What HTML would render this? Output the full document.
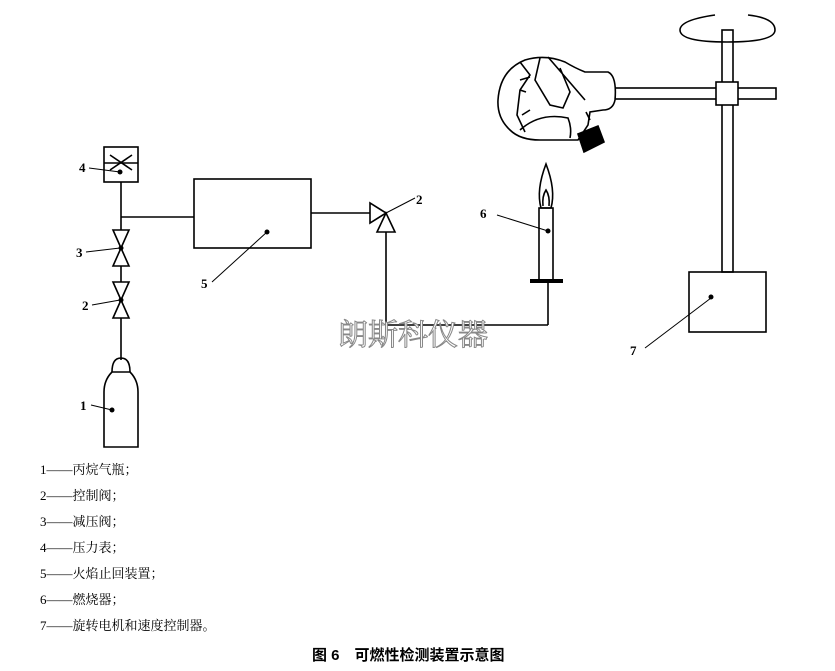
<!DOCTYPE html>
<html><head><meta charset="utf-8"><style>
body{margin:0;background:#fff;width:835px;height:671px;overflow:hidden;font-family:"Liberation Serif","Noto Serif CJK SC",serif}
</style></head><body>
<svg width="835" height="671" xmlns="http://www.w3.org/2000/svg" style="position:absolute;left:0;top:0">
<g stroke="#000" stroke-width="1.6" fill="none">
<rect x="104" y="147" width="34" height="35" fill="#fff"/>
<line x1="104" y1="163" x2="138" y2="163"/>
<path d="M110 155 L132 170 M110 170 L132 155"/>
<line x1="121" y1="182" x2="121" y2="230"/>
<line x1="121" y1="217" x2="194" y2="217"/>
<path d="M113 230 L129 230 L121 248 Z M113 266 L129 266 L121 248 Z"/>
<line x1="121" y1="266" x2="121" y2="282"/>
<path d="M113 282 L129 282 L121 300 Z M113 318 L129 318 L121 300 Z"/>
<line x1="121" y1="318" x2="121" y2="360"/>
<path d="M112 372 Q112 358 121 358 Q130 358 130 372"/>
<path d="M104 447 L104 392 Q104 380 112 372 L130 372 Q138 380 138 392 L138 447 Z"/>
<rect x="194" y="179" width="117" height="69"/>
<line x1="311" y1="213" x2="370" y2="213"/>
<path d="M370 203 L370 223 L386 213 Z M386 213 L377 232 L395 232 Z"/>
<line x1="386" y1="232" x2="386" y2="325"/>
<line x1="386" y1="325" x2="548" y2="325"/>
<line x1="548" y1="325" x2="548" y2="283"/>
<rect x="539" y="208" width="14" height="72"/>
<path d="M541 208 Q536 190 546 164 Q556 190 551 208 Z"/>
<path d="M543 206 Q542 196 546 190 Q550 196 549 206"/>
<rect x="722" y="30" width="11" height="242" fill="#fff"/>
<rect x="615" y="88" width="161" height="11" fill="#fff"/>
<rect x="716" y="82" width="22" height="23" fill="#fff"/>
<rect x="689" y="272" width="77" height="60"/>
<path d="M715 15 Q680 20 680 30 Q680 42 727 42 Q775 42 775 30 Q775 18 748 15"/>
<!-- helmet -->
<path d="M498 100 Q500 70 525 60 Q545 54 565 62 Q575 68 585 72 L608 72 Q617 76 615 100 Q613 110 603 110 L590 112 L588 125 L578 140 L540 140 Q520 140 510 130 Q497 118 498 100 Z" fill="#fff"/>
<path d="M520 62 L530 75 L520 90 L517 115 L525 132 M520 80 L530 77 M520 90 L526 92 M522 115 L530 110 M520 130 Q540 112 568 118 Q572 128 570 138 M540 58 L535 80 L550 105 L563 108 L570 92 L560 68 M548 57 L585 100"/>
<path d="M578 134 L584 152 L604 142 L598 126 Z" fill="#000"/>
<path d="M586 112 L590 120" />
<path d="M497 215 L548 231 M89 168 L120 172 M86 252 L120 248 M92 305 L120 300 M212 282 L267 232 M91 405 L112 410 M386 213 L415 198 M645 348 L711 298" stroke-width="1"/>
</g>
<g fill="#000">
<circle cx="120" cy="172" r="2.5"/><circle cx="121" cy="248" r="2.5"/><circle cx="121" cy="300" r="2.5"/>
<circle cx="112" cy="410" r="2.5"/><circle cx="267" cy="232" r="2.5"/><circle cx="548" cy="231" r="2.5"/><circle cx="711" cy="297" r="2.5"/>
<rect x="530" y="279" width="33" height="4"/>
</g>
<g font-family="Liberation Serif,serif" font-weight="bold" font-size="13">
<text x="79" y="172">4</text><text x="76" y="257">3</text><text x="82" y="310">2</text>
<text x="201" y="288">5</text><text x="80" y="410">1</text><text x="416" y="204">2</text>
<text x="480" y="218">6</text><text x="630" y="355">7</text>
</g>
<text x="338" y="345" font-family="Noto Serif CJK SC,serif" font-size="30" fill="#fff" stroke="#888" stroke-width="1">朗斯科仪器</text>
<g font-family="Liberation Serif,Noto Serif CJK SC,serif" font-size="13">
<text x="40" y="474">1——丙烷气瓶；</text>
<text x="40" y="500">2——控制阀；</text>
<text x="40" y="526">3——减压阀；</text>
<text x="40" y="552">4——压力表；</text>
<text x="40" y="578">5——火焰止回装置；</text>
<text x="40" y="604">6——燃烧器；</text>
<text x="40" y="630">7——旋转电机和速度控制器。</text>
</g>
<text x="312" y="660" font-family="Liberation Sans,Noto Sans CJK SC,sans-serif" font-weight="bold" font-size="15">图 6　可燃性检测装置示意图</text>
</svg>
</body></html>
